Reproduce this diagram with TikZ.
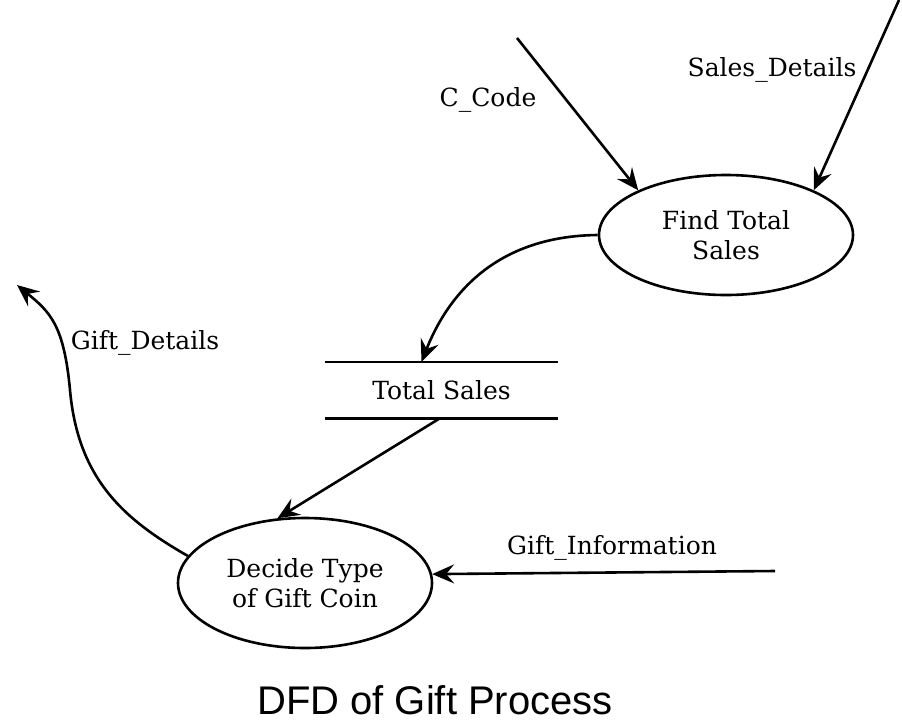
\documentclass[tikz,border=0pt]{standalone}
\usepackage{fontspec}
\setmainfont{DejaVu Serif}
\newfontfamily\titlefont{Liberation Sans}
\usetikzlibrary{arrows.meta,shapes.geometric}
\begin{document}
\begin{tikzpicture}[x=1pt,y=-1pt,
  txt/.style={font=\fontsize{25}{30}\selectfont},
  flow/.style={line width=2.6pt,-{Stealth[length=22pt,width=19pt,inset=8pt]}},
  process/.style={ellipse,draw,line width=2.6pt,minimum width=254pt,minimum height=120pt,align=center,txt,inner sep=0pt},
  lbl/.style={txt,inner sep=0pt},
  storebox/.style={minimum width=233pt,minimum height=56pt,inner sep=0pt,txt}]
\useasboundingbox (0,0) rectangle (902,721);
\fill[white] (0,0) rectangle (902,721);

% processes and data store
\node[process] (fts) at (726,235) {Find Total\\Sales};
\node[process,minimum height=130pt] (dec) at (305,583) {Decide Type\\of Gift Coin};
\node[storebox] (store) at (441.5,390) {Total Sales};
\draw[line width=2.6pt] (store.north west) -- (store.north east);
\draw[line width=2.6pt] (store.south west) -- (store.south east);

% free ends of external flows
\coordinate (ccodeSrc) at (517,38);
\coordinate (salesSrc) at (899,0);
\coordinate (infoSrc) at (775,571);
\coordinate (detailsDst) at (17,285);
\coordinate (detailsMid) at (70,390);

% flows
\draw[flow] (ccodeSrc) -- (fts.153);
\draw[flow] (salesSrc) -- (fts.27);
\draw[flow] (fts.west) .. controls (500,236) and (450,290) .. ([xshift=-20pt]store.north);
\draw[flow] ([xshift=-1.5pt]store.south) -- (dec.113);
\draw[flow] (infoSrc) -- (dec.4);
\draw[flow] (dec.167) .. controls (125,520) and (78,480) .. (detailsMid)
  .. controls (64,325) and (50,312) .. (detailsDst);

% flow labels
\node[lbl] (lccode) at (488,100) {C\_Code};
\node[lbl] (lsales) at (772,70) {Sales\_Details};
\node[lbl] (ldetails) at (145,343) {Gift\_Details};
\node[lbl] (linfo) at (612,548) {Gift\_Information};

% caption
\node[font=\titlefont\fontsize{40}{44}\selectfont,inner sep=0pt] (title) at (435,700) {DFD of Gift Process};
\end{tikzpicture}
\end{document}
